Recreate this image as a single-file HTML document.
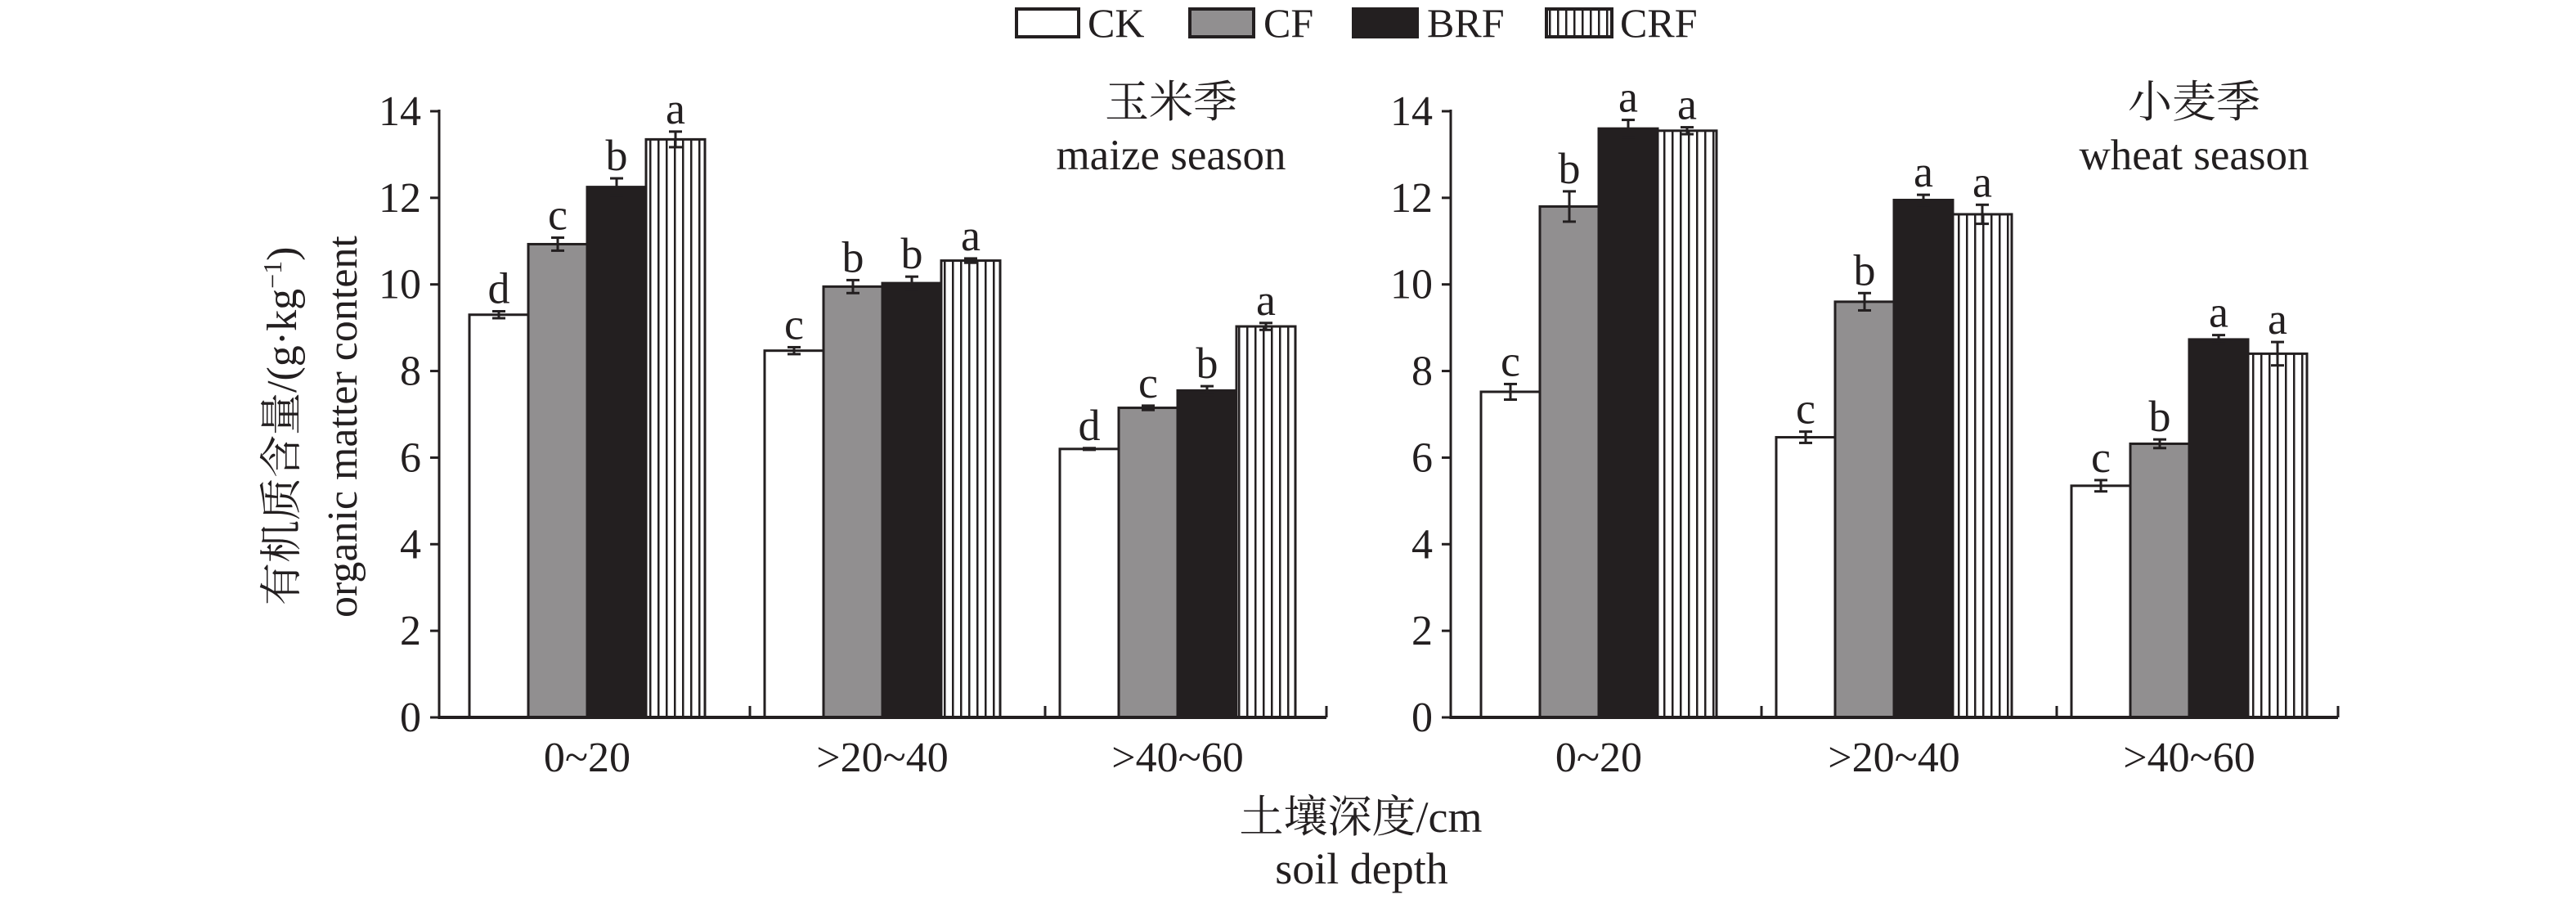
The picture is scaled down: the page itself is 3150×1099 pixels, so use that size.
<!DOCTYPE html>
<html><head><meta charset="utf-8"><style>
html,body{margin:0;padding:0;background:#fff;}
svg{display:block;}
text{font-family:"Liberation Serif","Noto Serif CJK SC",serif;fill:#231f20;}
</style></head><body>
<svg width="3150" height="1099" viewBox="0 0 3150 1099" xmlns="http://www.w3.org/2000/svg" font-family="Liberation Serif, Noto Serif CJK SC, serif">
<defs>
<pattern id="hatch" patternUnits="userSpaceOnUse" width="10" height="10">
<rect width="10" height="10" fill="#fff"/>
<rect x="4" y="0" width="2.5" height="10" fill="#231f20"/>
</pattern>
</defs>
<!-- legend -->
<g stroke="#231f20" stroke-width="4">
<rect x="1243" y="11" width="76" height="34" fill="#fff"/>
<rect x="1455" y="11" width="78" height="34" fill="#918f90"/>
<rect x="1655" y="11" width="78" height="34" fill="#231f20"/>
<rect x="1891" y="11" width="80" height="34" fill="url(#hatch)"/>
</g>
<g font-size="50">
<text x="1330" y="45">CK</text>
<text x="1545" y="45">CF</text>
<text x="1745" y="45">BRF</text>
<text x="1981" y="45">CRF</text>
</g>
<g id="panels"></g>
<!-- titles -->
<g text-anchor="middle">
<text x="1432" y="143" font-size="54">玉米季</text>
<text x="1432" y="207" font-size="53">maize season</text>
<text x="2683" y="143" font-size="54">小麦季</text>
<text x="2683" y="207" font-size="53">wheat season</text>
</g>
<!-- y label -->
<g font-size="52">
<text transform="translate(362,740) rotate(-90)">有机质含量/(g·kg<tspan baseline-shift="super" font-size="32">−1</tspan>)</text>
<text transform="translate(436,755) rotate(-90)">organic matter content</text>
</g>
<!-- x label -->
<g text-anchor="middle" font-size="54">
<text x="1664" y="1017">土壤深度/cm</text>
<text x="1665" y="1080">soil depth</text>
</g>
<script>
(function(){
var ns="http://www.w3.org/2000/svg";
var g=document.getElementById('panels');
function el(t,a,txt){var e=document.createElementNS(ns,t);for(var k in a)e.setAttribute(k,a[k]);if(txt!=null)e.textContent=txt;g.appendChild(e);return e;}
var y0=877,py=52.93;
function Y(v){return y0-v*py;}
var fills=['#fff','#918f90','#231f20','url(#hatch)'];
var panels=[
{ax:537,data:[[[9.3,.08,'d'],[10.93,.15,'c'],[12.25,.2,'b'],[13.35,.18,'a']],
[[8.47,.08,'c'],[9.95,.15,'b'],[10.03,.15,'b'],[10.55,.05,'a']],
[[6.2,.02,'d'],[7.15,.05,'c'],[7.55,.1,'b'],[9.03,.08,'a']]]},
{ax:1774,data:[[[7.52,.18,'c'],[11.8,.35,'b'],[13.6,.2,'a'],[13.55,.08,'a']],
[[6.47,.13,'c'],[9.6,.2,'b'],[11.95,.12,'a'],[11.62,.22,'a']],
[[5.35,.13,'c'],[6.32,.1,'b'],[8.73,.1,'a'],[8.4,.27,'a']]]}];
var cats=['0~20','>20~40','>40~60'];
panels.forEach(function(p){
var ax=p.ax,W=1085,bw=72,gs=361;
p.data.forEach(function(grp,gi){
var gx=ax+37+gi*gs;
grp.forEach(function(d,bi){
var x=gx+bi*bw,top=Y(d[0]);
el('rect',{x:x,y:top,width:bw,height:y0-top,fill:fills[bi],stroke:'#231f20','stroke-width':3});
var cx=x+bw/2,e1=Y(d[0]+d[1]),e2=Y(d[0]-d[1]);
var sc='#231f20';
el('line',{x1:cx,y1:e1,x2:cx,y2:e2,stroke:sc,'stroke-width':3});
el('line',{x1:cx-8,y1:e1,x2:cx+8,y2:e1,stroke:sc,'stroke-width':3});
el('line',{x1:cx-8,y1:e2,x2:cx+8,y2:e2,stroke:sc,'stroke-width':3});
el('text',{x:cx,y:e1-10,'font-size':54,'text-anchor':'middle'},d[2]);
});
el('text',{x:gx+144,y:943,'font-size':52,'text-anchor':'middle'},cats[gi]);
if(gi>0)el('line',{x1:gx-18,y1:y0,x2:gx-18,y2:y0-14,stroke:'#231f20','stroke-width':3});
});
el('line',{x1:ax+W,y1:y0,x2:ax+W,y2:y0-14,stroke:'#231f20','stroke-width':3});
el('line',{x1:ax,y1:Y(14)-2,x2:ax,y2:y0+2,stroke:'#231f20','stroke-width':3});
el('line',{x1:ax,y1:y0,x2:ax+W,y2:y0,stroke:'#231f20','stroke-width':4});
for(var v=0;v<=14;v+=2){
el('line',{x1:ax-11,y1:Y(v),x2:ax,y2:Y(v),stroke:'#231f20','stroke-width':3});
el('text',{x:ax-22,y:Y(v)+17,'font-size':52,'text-anchor':'end'},String(v));
}
});
})();
</script>
</svg>
</body></html>
